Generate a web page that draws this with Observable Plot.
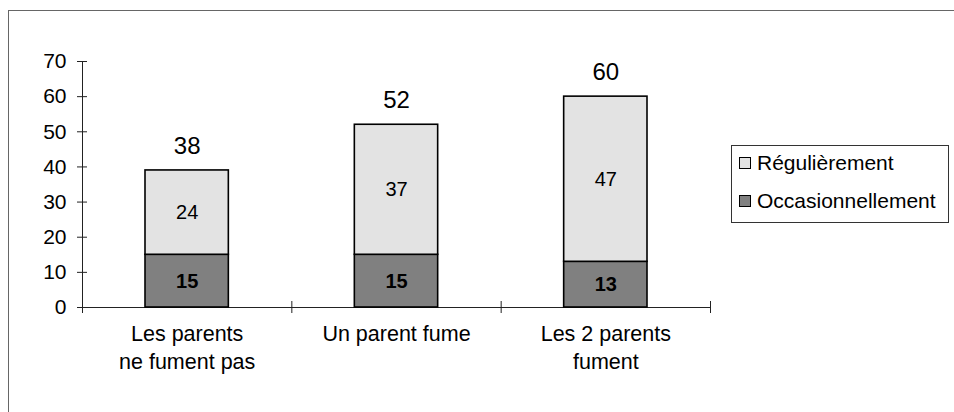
<!DOCTYPE html>
<html>
<head>
<meta charset="utf-8">
<script src="https://cdn.jsdelivr.net/npm/d3@7"></script>
<script src="https://cdn.jsdelivr.net/npm/@observablehq/plot@0.6"></script>
<style>
  html, body { margin: 0; padding: 0; background: #fff; }
  #wrap { position: relative; width: 954px; height: 412px; overflow: hidden; font-family: "Liberation Sans", Arial, sans-serif; }
  #frame { position: absolute; left: 8px; top: 10px; width: 960px; height: 420px; border-left: 1px solid #666; border-top: 1px solid #666; box-sizing: border-box; }
  #legend { position: absolute; left: 731px; top: 145px; width: 218px; height: 78px; border: 1px solid #333; box-sizing: border-box; background: #fff; }
  .item { position: absolute; left: 7px; display: flex; align-items: center; font-size: 21px; color: #000; white-space: nowrap; }
  .sw { width: 12px; height: 12px; border: 1px solid #000; box-sizing: border-box; margin-right: 6px; }
  #chart { position: absolute; left: 0; top: 0; }
</style>
</head>
<body>
<div id="wrap">
  <div id="frame"></div>
  <div id="chart"></div>
  <div id="legend"></div>
</div>
<script>
const categories = ["Les parents\nne fument pas", "Un parent fume", "Les 2 parents\nfument"];
const seriesNames = ["Occasionnellement", "Régulièrement"];
const occasionnellement = [15, 15, 13];
const regulierement = [24, 37, 47];
const totals = [38, 52, 60];
const yTicks = [0, 10, 20, 30, 40, 50, 60, 70];
const seriesColors = ["#808080", "#e3e3e3"];

// Build stacked rows (bottom: Occasionnellement, top: Régulièrement)
const rows = [];
categories.forEach((c, i) => {
  let base = 0;
  [occasionnellement[i], regulierement[i]].forEach((v, s) => {
    rows.push({cat: c, i, x1: i, x2: i + 1, mid: i + 0.5, series: seriesNames[s], value: v, y1: base, y2: base + v});
    base += v;
  });
});
const tops = categories.map((c, i) => ({mid: i + 0.5, top: occasionnellement[i] + regulierement[i], total: totals[i]}));
const catData = categories.map((c, i) => ({mid: i + 0.5, label: c}));
const xBounds = d3.range(categories.length + 1);

const font = "'Liberation Sans', Arial, sans-serif";

const chart = Plot.plot({
  width: 954,
  height: 412,
  marginLeft: 82,
  marginRight: 244,
  marginTop: 61,
  marginBottom: 105,
  style: {fontFamily: font, background: "transparent", overflow: "visible"},
  x: {type: "linear", domain: [0, categories.length], axis: null},
  y: {domain: [0, 70], axis: null},
  color: {domain: seriesNames, range: seriesColors},
  marks: [
    // axis lines
    Plot.ruleX([0], {y1: 0, y2: 70, stroke: "#222", strokeWidth: 1}),
    Plot.ruleY([0], {x1: 0, x2: categories.length, stroke: "#222", strokeWidth: 1}),
    // cross tick marks
    Plot.ruleY(yTicks, {y: d => d, x1: 0, x2: 0, insetLeft: -5, insetRight: -5, stroke: "#222"}),
    Plot.ruleX(xBounds, {x: d => d, y1: 0, y2: 0, insetTop: -6, insetBottom: -6, stroke: "#222"}),
    // y tick labels
    Plot.text(yTicks, {x: 0, y: d => d, text: d => String(d), textAnchor: "end", dx: -16, fontSize: 21, fill: "#000"}),
    // bars
    Plot.rect(rows, {x1: "x1", x2: "x2", y1: "y1", y2: "y2", fill: "series", stroke: "#000", strokeWidth: 1.6, insetLeft: 63, insetRight: 63}),
    // inner labels
    Plot.text(rows.filter(d => d.series === "Régulièrement"), {x: "mid", y: d => (d.y1 + d.y2) / 2, text: d => String(d.value), fontSize: 20, fill: "#000"}),
    Plot.text(rows.filter(d => d.series === "Occasionnellement"), {x: "mid", y: d => (d.y1 + d.y2) / 2, text: d => String(d.value), fontSize: 20, fontWeight: "bold", fill: "#000"}),
    // totals
    Plot.text(tops, {x: "mid", y: "top", text: d => String(d.total), dy: -24, fontSize: 24, fill: "#000"}),
    // category labels
    Plot.text(catData, {x: "mid", y: 0, text: "label", lineAnchor: "top", dy: 14, fontSize: 21.5, lineHeight: 1.28, fill: "#000"})
  ]
});
document.getElementById("chart").appendChild(chart);

// Legend (HTML)
const legend = document.getElementById("legend");
const legendOrder = ["Régulièrement", "Occasionnellement"];
const legendTops = [5, 43];
legendOrder.forEach((name, k) => {
  const item = document.createElement("div");
  item.className = "item";
  item.style.top = legendTops[k] + "px";
  const sw = document.createElement("div");
  sw.className = "sw";
  sw.style.background = seriesColors[seriesNames.indexOf(name)];
  const t = document.createElement("span");
  t.textContent = name;
  item.appendChild(sw);
  item.appendChild(t);
  legend.appendChild(item);
});
</script>
</body>
</html>
